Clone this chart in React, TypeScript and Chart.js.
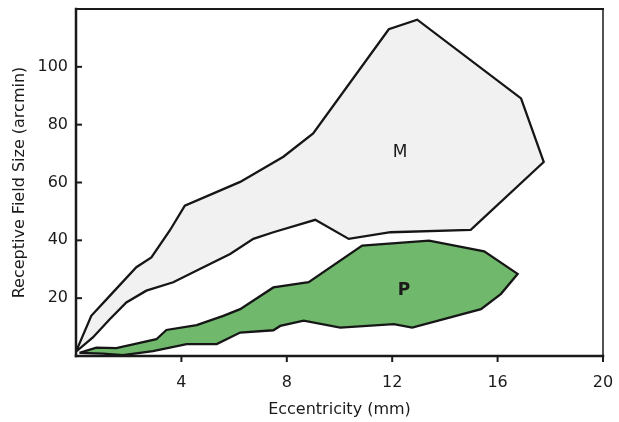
import React, { useEffect, useRef } from "react";
import { Chart, registerables } from "chart.js";

Chart.register(...registerables);

// Magnocellular (M) region outline: eccentricity (mm) and receptive field size (arcmin)
const mEcc = [0, 0.58, 1.28, 2.29, 2.86, 3.56, 4.13, 6.23, 7.87, 9.0, 11.87, 12.95, 16.89, 17.75, 14.98, 11.94, 10.35, 9.08, 7.49, 6.73, 5.85, 4.7, 3.69, 2.67, 1.91, 1.28, 0.64, 0];
const mSize = [1.5, 13.9, 20.8, 30.7, 34.1, 43.4, 52, 60.2, 68.9, 77, 113, 116.3, 89.1, 67.1, 43.6, 42.8, 40.5, 47.1, 42.8, 40.5, 35.3, 30.1, 25.5, 22.6, 18.5, 12.7, 6.4, 1.5];

// Parvocellular (P) region outline
const pEcc = [0.13, 0.77, 1.53, 3.05, 3.43, 4.58, 5.59, 6.23, 7.49, 8.83, 10.86, 13.4, 15.49, 16.76, 16.13, 15.37, 12.76, 12.06, 10.03, 8.64, 7.75, 7.49, 6.23, 5.34, 4.2, 2.92, 1.78, 1.02, 0.13];
const pSize = [1.1, 2.9, 2.7, 5.8, 9.0, 10.7, 13.9, 16.2, 23.7, 25.5, 38.2, 39.9, 36.2, 28.4, 21.5, 16.2, 9.8, 11.0, 9.8, 12.2, 10.4, 8.9, 8.1, 4.1, 4.1, 1.7, 0.3, 0.8, 1.1];

const xTicks = [4, 8, 12, 16, 20];
const yTicks = [20, 40, 60, 80, 100];

const regionLabels = ["M", "P"];
const labelEcc = [12.3, 12.45];
const labelSize = [70.5, 22.6];

const FONT = "'DejaVu Sans', sans-serif";

const framePlugin = {
  id: "frame",
  afterDatasetsDraw(chart: any) {
    const { ctx, chartArea, scales } = chart;
    const { left, right, top, bottom } = chartArea;
    ctx.save();
    ctx.strokeStyle = "#1a1a1a";
    ctx.lineCap = "square";
    ctx.lineWidth = 2.5;
    ctx.beginPath(); ctx.moveTo(left, top); ctx.lineTo(left, bottom); ctx.stroke();
    ctx.beginPath(); ctx.moveTo(left, bottom); ctx.lineTo(right, bottom); ctx.stroke();
    ctx.lineWidth = 2;
    ctx.beginPath(); ctx.moveTo(left, top); ctx.lineTo(right, top); ctx.stroke();
    ctx.lineWidth = 1.5;
    ctx.beginPath(); ctx.moveTo(right, top); ctx.lineTo(right, bottom); ctx.stroke();
    ctx.lineWidth = 2;
    ctx.lineCap = "butt";
    xTicks.forEach((v) => {
      const px = scales.x.getPixelForValue(v);
      ctx.beginPath(); ctx.moveTo(px, bottom); ctx.lineTo(px, bottom + 6); ctx.stroke();
    });
    yTicks.forEach((v) => {
      const py = scales.y.getPixelForValue(v);
      ctx.beginPath(); ctx.moveTo(left, py); ctx.lineTo(left + 6, py); ctx.stroke();
    });
    ctx.fillStyle = "#1a1a1a";
    ctx.textAlign = "center";
    ctx.textBaseline = "middle";
    regionLabels.forEach((t, i) => {
      ctx.font = (i === 1 ? "bold " : "") + "17px " + FONT;
      ctx.fillText(t, scales.x.getPixelForValue(labelEcc[i]), scales.y.getPixelForValue(labelSize[i]));
    });
    ctx.restore();
  },
};

export default function App() {
  const ref = useRef<HTMLCanvasElement | null>(null);
  useEffect(() => {
    if (!ref.current) return;
    const toPts = (xs: number[], ys: number[]) => xs.map((x, i) => ({ x, y: ys[i] }));
    const noPad = (s: any) => { s.paddingLeft = 0; s.paddingRight = 0; s.paddingTop = 0; s.paddingBottom = 0; };
    const chart = new Chart(ref.current, {
      type: "scatter",
      data: {
        datasets: [
          {
            label: "M",
            data: toPts(mEcc, mSize),
            showLine: true,
            fill: "shape",
            backgroundColor: "#f1f1f1",
            borderColor: "#161616",
            borderWidth: 2.3,
            pointRadius: 0,
            tension: 0,
          },
          {
            label: "P",
            data: toPts(pEcc, pSize),
            showLine: true,
            fill: "shape",
            backgroundColor: "#70b96c",
            borderColor: "#161616",
            borderWidth: 2.3,
            pointRadius: 0,
            tension: 0,
          },
        ],
      },
      options: {
        responsive: false,
        animation: false,
        layout: { padding: { top: 9, right: 16, left: 0, bottom: 0 } },
        plugins: { legend: { display: false }, tooltip: { enabled: false } },
        scales: {
          x: {
            type: "linear",
            min: 0,
            max: 20,
            afterFit: (s: any) => { s.height = 66; noPad(s); },
            grid: { display: false, drawTicks: false },
            border: { display: false },
            ticks: {
              stepSize: 4,
              padding: 17,
              color: "#1a1a1a",
              font: { family: FONT, size: 16 },
              maxRotation: 0,
              callback: (v: any) => (xTicks.includes(Number(v)) ? String(v) : ""),
            },
            title: {
              display: true,
              text: "Eccentricity (mm)",
              color: "#1a1a1a",
              font: { family: FONT, size: 16 },
              padding: { top: 0, bottom: 3 },
            },
          },
          y: {
            type: "linear",
            min: 0,
            max: 120,
            afterFit: (s: any) => { s.width = 76; noPad(s); },
            grid: { display: false, drawTicks: false },
            border: { display: false },
            ticks: {
              stepSize: 20,
              padding: 8,
              color: "#1a1a1a",
              font: { family: FONT, size: 16 },
              callback: (v: any) => (yTicks.includes(Number(v)) ? String(v) : ""),
            },
            title: {
              display: true,
              text: "Receptive Field Size (arcmin)",
              color: "#1a1a1a",
              font: { family: FONT, size: 16 },
              padding: { top: 10, bottom: 0 },
            },
          },
        },
      },
      plugins: [framePlugin],
    } as any);
    return () => chart.destroy();
  }, []);
  return (
    <div style={{ position: "absolute", left: 0, top: 0, width: 619, height: 422, background: "#fff" }}>
      <canvas ref={ref} width={619} height={422} style={{ display: "block" }} />
    </div>
  );
}
